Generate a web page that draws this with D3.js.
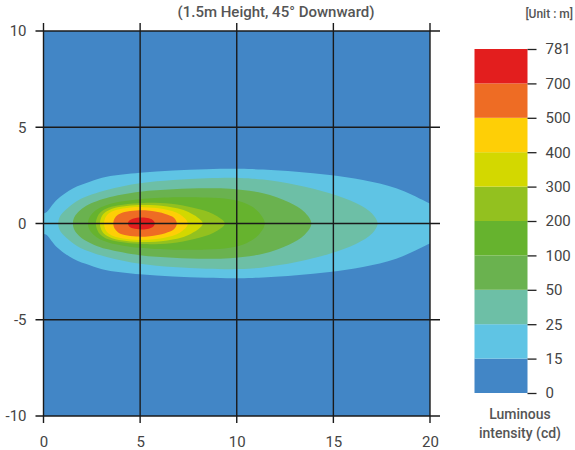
<!DOCTYPE html>
<html>
<head>
<meta charset="utf-8">
<script src="https://cdn.jsdelivr.net/npm/d3@7"></script>
<style>
  html, body { margin: 0; padding: 0; background: #fff; }
  svg { display: block; font-family: Roboto, "Noto Sans", sans-serif; }
</style>
</head>
<body>
<div id="chart"></div>
<script>
// contour levels (cd) and band colours, lowest first
const levels = [0, 15, 25, 50, 100, 200, 300, 400, 500, 700, 781];
const bandColors = ['#4286c6', '#5fc4e4', '#6dbfa6', '#6ab24f', '#66b32e', '#93c11f', '#d3d800', '#fecf06', '#ee6c24', '#e31e1e'];

const xTicks = [0, 5, 10, 15, 20];
const yTicks = [-10, -5, 0, 5, 10];

// upper half of each iso-line in metres (mirrored about y = 0)
const outline15 = [[-0.2, 0], [0, 0.5], [0.17, 0.6], [0.68, 1.22], [1.54, 1.83], [2.4, 2.17], [3.27, 2.43], [4.99, 2.64], [6.71, 2.75], [8.43, 2.82], [10.16, 2.84], [11.36, 2.8], [13.09, 2.69], [14.81, 2.52], [16.53, 2.26], [18.25, 1.83], [19.8, 1.13], [20.6, 0.7], [20.8, 0]];
const outline25 = [[0.76, 0], [0.82, 0.3], [0.98, 0.55], [1.3, 0.85], [1.89, 1.26], [3.27, 1.74], [4.99, 2.09], [6.71, 2.26], [8.43, 2.35], [10.16, 2.37], [11.36, 2.28], [13.09, 2.0], [14.81, 1.57], [16.19, 1.05], [17.0, 0.52], [17.29, 0]];
const outline50 = [[1.52, 0], [1.58, 0.3], [1.75, 0.55], [2.1, 0.85], [2.6, 1.1], [3.27, 1.33], [4.99, 1.65], [6.71, 1.78], [8.43, 1.83], [9.64, 1.8], [11.36, 1.57], [12.7, 1.1], [13.5, 0.6], [13.86, 0]];
const outline100 = [[2.3, 0], [2.37, 0.3], [2.55, 0.55], [2.85, 0.78], [3.4, 1.0], [4.12, 1.15], [4.99, 1.26], [6.71, 1.36], [8.43, 1.35], [9.64, 1.26], [10.5, 1.02], [11.1, 0.62], [11.45, 0]];
const outline200 = [[2.71, 0], [2.78, 0.32], [2.95, 0.58], [3.35, 0.82], [4.1, 0.98], [5.2, 1.07], [6.6, 1.02], [7.8, 0.8], [8.8, 0.48], [9.38, 0]];
const outline300 = [[2.92, 0], [2.98, 0.3], [3.15, 0.55], [3.55, 0.77], [4.3, 0.91], [5.2, 0.96], [6.4, 0.88], [7.5, 0.6], [8.24, 0]];
const outline400 = [[3.13, 0], [3.19, 0.28], [3.37, 0.52], [3.75, 0.7], [4.5, 0.83], [5.2, 0.85], [6.2, 0.75], [7.05, 0.48], [7.47, 0]];
const outline500 = [[3.61, 0], [3.67, 0.25], [3.85, 0.45], [4.2, 0.6], [4.8, 0.68], [5.5, 0.66], [6.3, 0.5], [6.75, 0.3], [6.9, 0]];
const outline700 = [[4.37, 0], [4.43, 0.14], [4.62, 0.25], [5.06, 0.31], [5.45, 0.27], [5.68, 0.16], [5.76, 0]];

const outlines = [outline15, outline25, outline50, outline100, outline200, outline300, outline400, outline500, outline700];

const width = 575, height = 450;
const svg = d3.select('#chart').append('svg')
  .attr('width', width)
  .attr('height', height);

const x = d3.scaleLinear().domain([0, 20]).range([43.5, 430]);
const y = d3.scaleLinear().domain([-10, 10]).range([416, 31]);

// clip for the plot area
svg.append('defs').append('clipPath').attr('id', 'plot-clip')
  .append('rect')
  .attr('x', x(0)).attr('y', y(10))
  .attr('width', x(20) - x(0)).attr('height', y(-10) - y(10));

const plot = svg.append('g').attr('clip-path', 'url(#plot-clip)');

// background band (0 - 15)
plot.append('rect')
  .attr('x', x(0)).attr('y', y(10))
  .attr('width', x(20) - x(0)).attr('height', y(-10) - y(10))
  .attr('fill', bandColors[0]);

const line = d3.line()
  .x(d => x(d[0]))
  .y(d => y(d[1]))
  .curve(d3.curveCatmullRomClosed.alpha(0.5));

// close each outline by mirroring the upper half
const closed = pts => {
  const lower = pts.slice(1, -1).reverse().map(p => [p[0], -p[1]]);
  return pts.concat(lower);
};

plot.selectAll('path.band')
  .data(outlines)
  .enter()
  .append('path')
  .attr('class', 'band')
  .attr('d', d => line(closed(d)))
  .attr('fill', (d, i) => bandColors[i + 1]);

// grid lines, a little longer than the plot
const grid = svg.append('g').attr('stroke', '#1a1a1a').attr('stroke-width', 1.4);
grid.selectAll('line.v')
  .data(xTicks)
  .enter()
  .append('line')
  .attr('x1', d => x(d)).attr('x2', d => x(d))
  .attr('y1', y(10) - 8).attr('y2', y(-10) + 7);
grid.selectAll('line.h')
  .data(yTicks)
  .enter()
  .append('line')
  .attr('y1', d => y(d)).attr('y2', d => y(d))
  .attr('x1', x(0) - 8).attr('x2', x(20) + 10);

// tick labels (plain hyphen for negatives, as in the original)
const xAxis = svg.append('g')
  .attr('transform', `translate(0,${y(-10)})`)
  .call(d3.axisBottom(x).tickValues(xTicks).tickFormat(d => String(d)).tickSize(0).tickPadding(20));
const yAxis = svg.append('g')
  .attr('transform', `translate(${x(0)},0)`)
  .call(d3.axisLeft(y).tickValues(yTicks).tickFormat(d => String(d)).tickSize(0).tickPadding(17));

[xAxis, yAxis].forEach(a => {
  a.select('.domain').remove();
  a.selectAll('text')
    .attr('fill', '#444')
    .style('font-size', '15px')
    .style('font-family', 'Roboto, sans-serif');
});

// title
svg.append('text')
  .attr('x', 276)
  .attr('y', 17)
  .attr('text-anchor', 'middle')
  .attr('fill', '#555')
  .style('font-size', '15px')
  .style('font-weight', 500)
  .text('(1.5m Height, 45° Downward)');

svg.append('text')
  .attr('x', 573)
  .attr('y', 18)
  .attr('text-anchor', 'end')
  .attr('fill', '#555')
  .style('font-size', '12px')
  .style('font-weight', 500)
  .text('[Unit : m]');

// legend
const legendX = 474.5, legendW = 53;
const ly = d3.scalePoint()
  .domain(levels.map(String))
  .range([393, 49]);

const legend = svg.append('g');
legend.selectAll('rect')
  .data(bandColors)
  .enter()
  .append('rect')
  .attr('x', legendX)
  .attr('y', (d, i) => ly(String(levels[i + 1])))
  .attr('width', legendW)
  .attr('height', (d, i) => ly(String(levels[i])) - ly(String(levels[i + 1])))
  .attr('fill', d => d);

const lAxis = legend.append('g')
  .attr('transform', `translate(${legendX + legendW},0)`)
  .call(d3.axisRight(ly).tickSize(9).tickPadding(9));
lAxis.select('.domain').remove();
lAxis.selectAll('line').attr('stroke', '#222').attr('stroke-width', 1.3);
lAxis.selectAll('text')
  .attr('fill', '#444')
  .style('font-size', '15px')
  .style('font-family', 'Roboto, sans-serif');

legend.append('text')
  .attr('x', 520)
  .attr('y', 419)
  .attr('text-anchor', 'middle')
  .attr('fill', '#555')
  .style('font-size', '14px')
  .style('font-weight', 500)
  .text('Luminous');
legend.append('text')
  .attr('x', 520)
  .attr('y', 438)
  .attr('text-anchor', 'middle')
  .attr('fill', '#555')
  .style('font-size', '14px')
  .style('font-weight', 500)
  .text('intensity (cd)');
</script>
</body>
</html>
